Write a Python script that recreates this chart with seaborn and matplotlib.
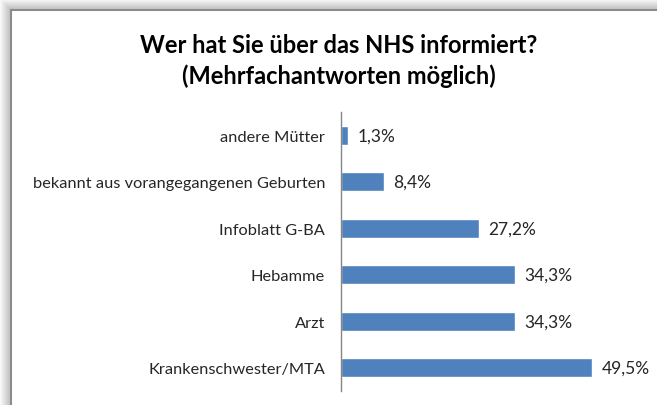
import matplotlib
matplotlib.use("Agg")
import matplotlib.pyplot as plt
import seaborn as sns
import pandas as pd
from matplotlib.patches import Rectangle

# Daten
kategorien = ["andere Mütter", "bekannt aus vorangegangenen Geburten", "Infoblatt G-BA",
              "Hebamme", "Arzt", "Krankenschwester/MTA"]
werte = [1.3, 8.4, 27.2, 34.3, 34.3, 49.5]
beschriftung = ["1,3%", "8,4%", "27,2%", "34,3%", "34,3%", "49,5%"]
titel = "Wer hat Sie über das NHS informiert?\n(Mehrfachantworten möglich)"

df = pd.DataFrame({"kategorie": kategorien, "wert": werte})

sns.set_style("white")
plt.rcParams['font.family'] = ['Lato', 'DejaVu Sans']

W, H = 657, 406
fig = plt.figure(figsize=(W / 100, H / 100), dpi=100)

# Schatten + Rahmen (Excel-Optik)
for i in range(12):
    fig.patches.append(Rectangle((11 - i, -50), W + 100, H - 11 + i + 50,
                                 transform=None, facecolor="#000000", alpha=0.022,
                                 edgecolor="none", zorder=-3))
fig.patches.append(Rectangle((11, -50), W + 100, H - 11 + 50, transform=None,
                             facecolor="white", edgecolor="#8c8c8c", linewidth=1.5, zorder=-2))

ax = fig.add_axes([341 / W, 14 / H, 304 / W, 279 / H])
ax.set_facecolor("none")
sns.barplot(data=df, x="wert", y="kategorie", color="#4f81bd", saturation=1,
            width=0.4, ax=ax, orient="h")

ax.set_xlim(0, 60)
ax.set_ylim(len(kategorien) - 0.5, -0.5)
ax.set_xlabel("")
ax.set_ylabel("")
ax.set_xticks([])
for s in ["top", "right", "bottom"]:
    ax.spines[s].set_visible(False)
ax.spines["left"].set_color("#868686")
ax.spines["left"].set_linewidth(1)
ax.tick_params(axis="y", length=0, pad=11.5, labelsize=11.8, labelcolor="#262626")

for i, (v, t) in enumerate(zip(werte, beschriftung)):
    ax.annotate(t, (v, i), xytext=(7, 0), textcoords="offset points",
                va="center", ha="left", fontsize=12.5, color="#262626")

fig.text(339 / W, 1 - 61 / H, titel, ha="center", va="center", fontsize=17,
         fontweight="bold", color="black", linespacing=1.38)

fig.savefig("out.png", dpi=100)
